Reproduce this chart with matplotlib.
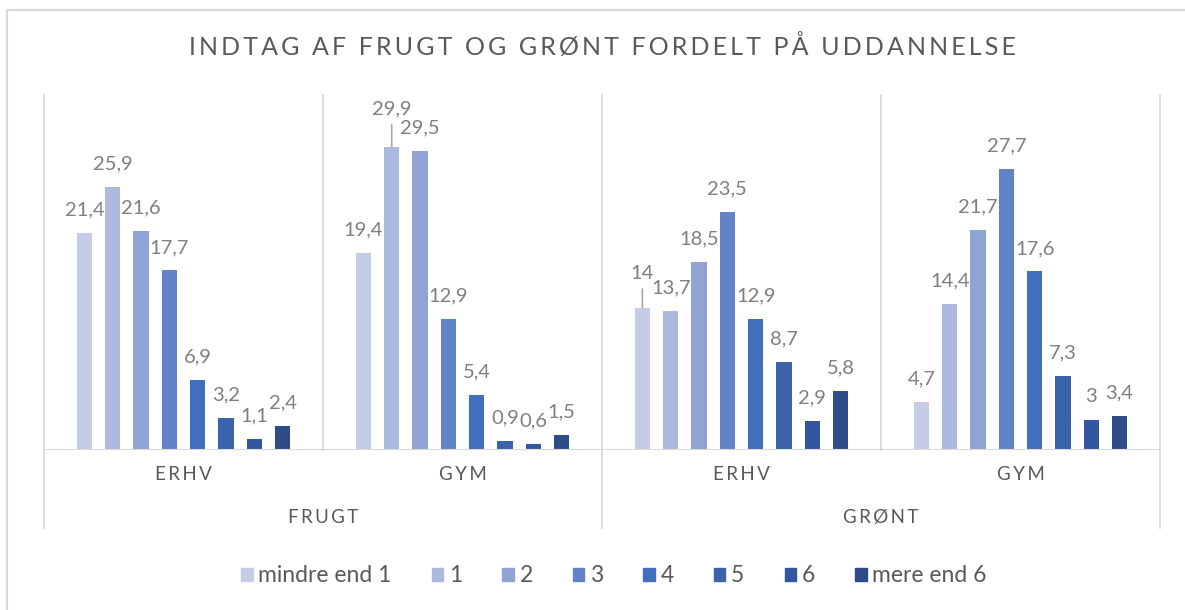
import numpy as np
import matplotlib.pyplot as plt
from matplotlib.patches import Patch
from matplotlib.lines import Line2D

plt.rcParams['font.family'] = ['Lato', 'DejaVu Sans']

# data
title = 'INDTAG AF FRUGT OG GRØNT FORDELT PÅ UDDANNELSE'
main_cats = ['FRUGT', 'GRØNT']
sub_cats = ['ERHV', 'GYM', 'ERHV', 'GYM']
series = ['mindre end 1', '1', '2', '3', '4', '5', '6', 'mere end 6']
frugt_erhv = [21.4, 25.9, 21.6, 17.7, 6.9, 3.2, 1.1, 2.4]
frugt_gym = [19.4, 29.9, 29.5, 12.9, 5.4, 0.9, 0.6, 1.5]
groent_erhv = [14, 13.7, 18.5, 23.5, 12.9, 8.7, 2.9, 5.8]
groent_gym = [4.7, 14.4, 21.7, 27.7, 17.6, 7.3, 3, 3.4]

colors = ['#C5CDE6', '#ADBADF', '#8FA4D4', '#6383C9',
          '#416EBD', '#3A63AB', '#33579E', '#2E4C88']
grid_c = '#D9D9D9'
txt_c = '#595959'
lab_c = '#7F7F7F'

vals = np.array([frugt_erhv, frugt_gym, groent_erhv, groent_gym])  # group x series

def spaced(s):
    return '\u2009'.join(s)

def fmt(v):
    return ('%g' % v).replace('.', ',')

fig = plt.figure(figsize=(11.85, 6.10), dpi=100)
ax = fig.add_axes([44/1185, 1-450/610, (1160-44)/1185, (450-95)/610])

ind = np.arange(4) + 0.5
pitch = 0.1015
width = 0.054
for i in range(len(series)):
    x = ind + (i - 3.5) * pitch
    ax.bar(x, vals[:, i], width, color=colors[i], label=series[i], zorder=3)
    for g in range(4):
        v = vals[g, i]
        dy = 16.6
        lead = None
        if g == 1 and i == 1:
            dy = 27.5
            lead = 22
        if g == 2 and i == 0:
            dy = 24.5
            lead = 19
        ax.annotate(fmt(v), (x[g], v), xytext=(0, dy), textcoords='offset points',
                    ha='center', va='center', fontsize=14.5, color=lab_c)
        if lead:
            ax.annotate('', (x[g], v), xytext=(0, lead * 0.72), textcoords='offset points',
                        arrowprops=dict(arrowstyle='-', color='#A6A6A6', lw=1.2,
                                        shrinkA=0, shrinkB=0))

ax.set_xlim(0, 4)
ax.set_ylim(0, 35)
for s in ax.spines.values():
    s.set_visible(False)
ax.set_xticks([])
ax.set_yticks([])

tr = ax.get_xaxis_transform()
ax.axhline(0, color=grid_c, lw=1.5, zorder=4)
for b in range(5):
    low = -0.2197 if b % 2 == 0 else 0
    ax.plot([b, b], [low, 1], color=grid_c, lw=1.3, transform=tr, clip_on=False, zorder=1)

for g in range(4):
    ax.text(ind[g], -0.0704, spaced(sub_cats[g]), transform=tr, ha='center', va='center',
            fontsize=13.5, color=txt_c)
for m in range(2):
    ax.text(1 + 2 * m, -0.189, spaced(main_cats[m]), transform=tr, ha='center', va='center',
            fontsize=13.5, color=txt_c)

fig.text(602/1185, 1-47/610, spaced(title), ha='center', va='center',
         fontsize=18, color=txt_c)

# chart border
fig.add_artist(Line2D([7/1185, 1], [1-10/610, 1-10/610], color=grid_c, lw=1.5))
fig.add_artist(Line2D([7/1185, 7/1185], [0, 1-10/610], color=grid_c, lw=1.5))

handles = [Patch(color=c) for c in colors]
fig.legend(handles, series, ncol=8, loc='center', bbox_to_anchor=(614/1185, 1-576/610),
           frameon=False, fontsize=16.5, handlelength=0.5, handleheight=0.5,
           handletextpad=0.25, columnspacing=1.75, labelcolor=txt_c)

fig.savefig('out.png', dpi=100)
